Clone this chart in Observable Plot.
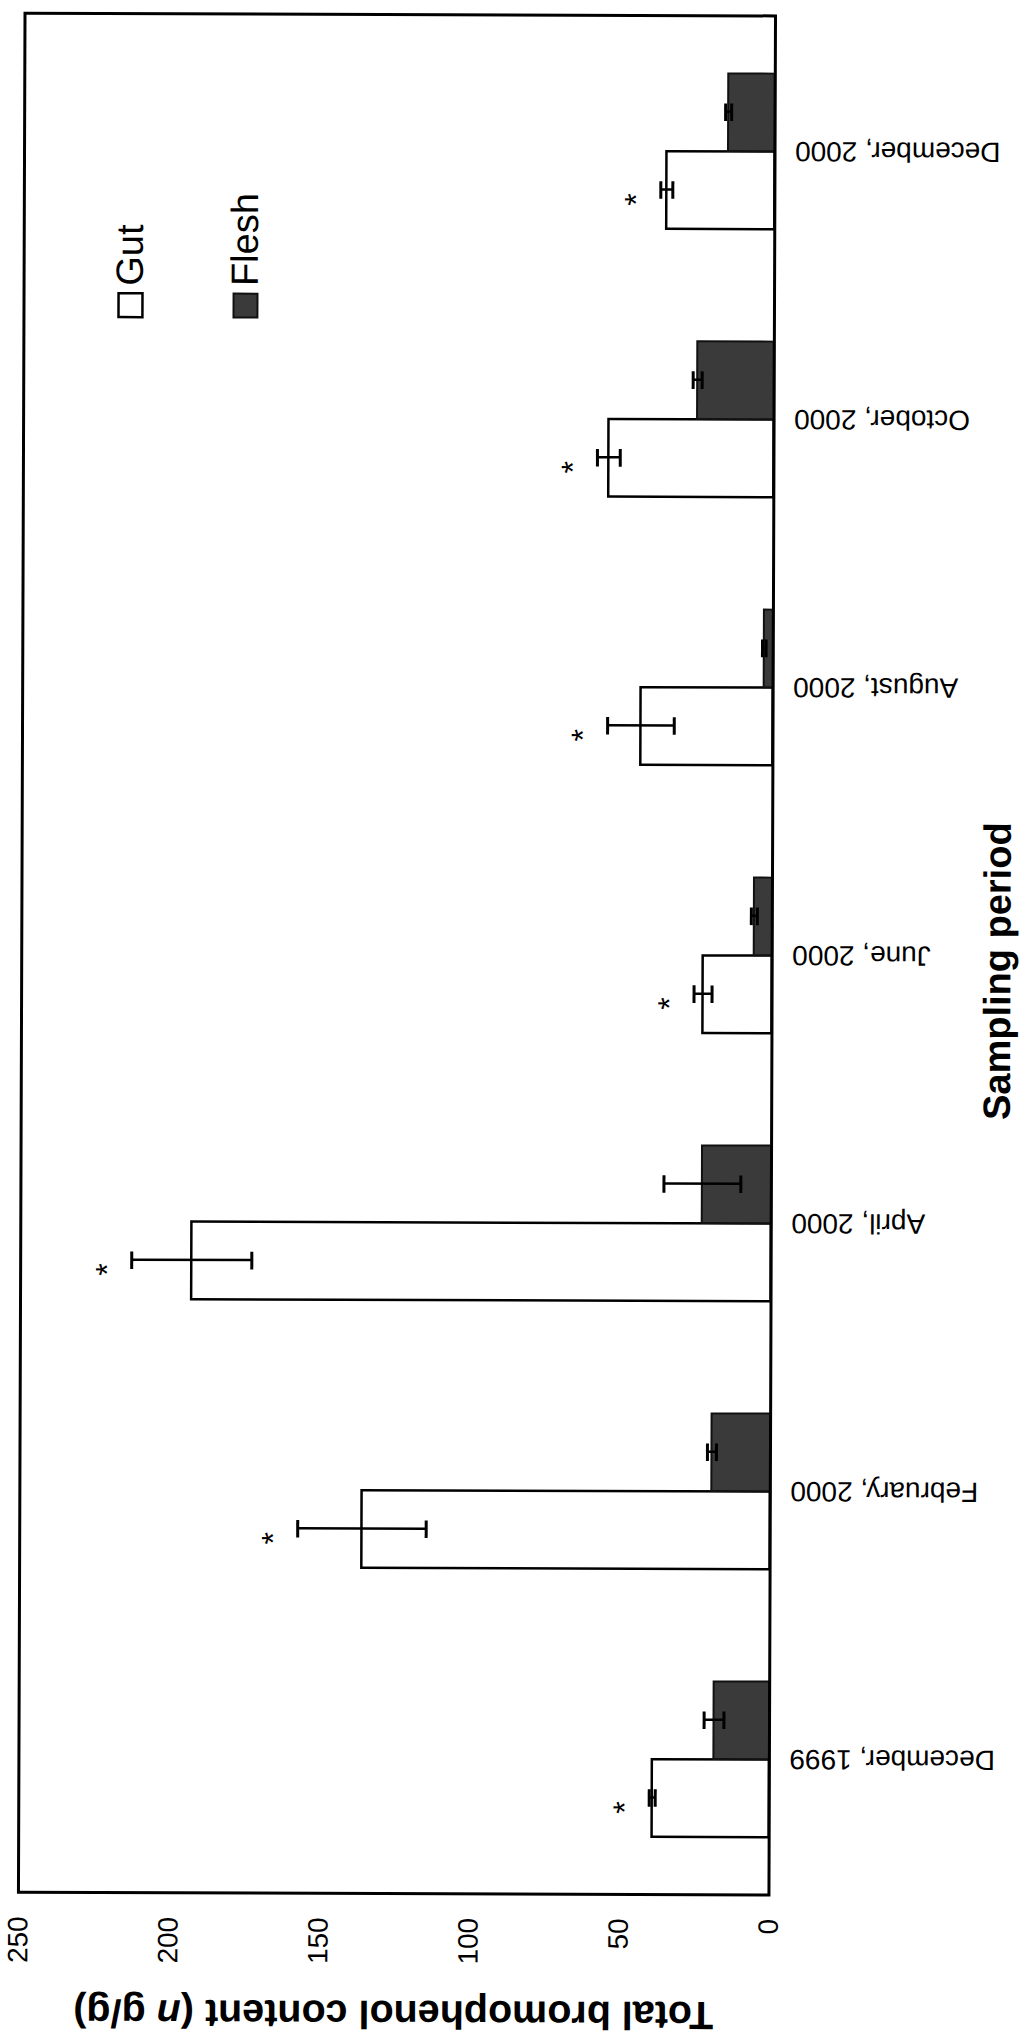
<!DOCTYPE html>
<html><head><meta charset="utf-8">
<script src="https://cdn.jsdelivr.net/npm/d3@7"></script>
<script src="https://cdn.jsdelivr.net/npm/@observablehq/plot@0.6"></script>
<style>
html,body{margin:0;padding:0;background:#fff;overflow:hidden;width:1022px;height:2037px;}
#wrap{position:absolute;left:-507.5px;top:507.5px;width:2037px;height:1022px;transform-origin:50% 50%;transform:rotate(-89.8deg);}
</style></head><body><div id="wrap"></div>
<script>
// Data (original chart: vertical bars, rendered rotated as in the scanned figure)
const periods = ["December, 1999","February, 2000","April, 2000","June, 2000","August, 2000","October, 2000","December, 2000"];
const gutMean   = [39, 136, 193, 23, 44, 55, 36];
const gutErr    = [1, 21.4, 20, 3, 11.1, 3.8, 2];
const fleshMean = [18.5, 19.5, 23, 6, 3, 25.5, 15.5];
const fleshErr  = [3.3, 1.5, 12.8, 1, 0.6, 1.5, 1];
const significant = [true, true, true, true, true, true, true];
const yTicks = [0, 50, 100, 150, 200, 250];
const seriesNames = ["Gut", "Flesh"];
const titleY = "Total bromophenol content (n g/g)";
const titleX = "Sampling period";

const gut = periods.map((p, i) => ({period: p, value: gutMean[i], err: gutErr[i], sig: significant[i]}));
const flesh = periods.map((p, i) => ({period: p, value: fleshMean[i], err: fleshErr[i]}));

const W = 2037, H = 1022;
const mL = 143, mR = 15, mT = 20.5, mB = 251;
const bw = (W - mL - mR) / periods.length;
const barW = 78;
const capHalf = 9;
const gutOff = -barW / 2, fleshOff = barW / 2;
const font = "Liberation Sans, Arial, Helvetica, sans-serif";

const chart = Plot.plot({
  width: W, height: H,
  marginLeft: mL, marginRight: mR, marginTop: mT, marginBottom: mB,
  style: {fontFamily: font, fontSize: "28px", color: "#000", background: "#fff"},
  x: {domain: periods, padding: 0, label: null},
  y: {domain: [0, 250], label: null},
  marks: [
    Plot.barY(gut, {x: "period", y: "value", fill: "#fff", stroke: "#000", strokeWidth: 2.5,
      insetLeft: bw / 2 - barW, insetRight: bw / 2}),
    Plot.barY(flesh, {x: "period", y: "value", fill: "#3a3a3a", stroke: "#111", strokeWidth: 2,
      insetLeft: bw / 2, insetRight: bw / 2 - barW}),
    // error bars
    Plot.ruleX(gut, {x: "period", y1: d => d.value - d.err, y2: d => d.value + d.err, dx: gutOff, stroke: "#000", strokeWidth: 2.5}),
    Plot.tickY(gut, {x: "period", y: d => d.value + d.err, insetLeft: bw / 2 + gutOff - capHalf, insetRight: bw / 2 - gutOff - capHalf, strokeWidth: 3}),
    Plot.tickY(gut, {x: "period", y: d => d.value - d.err, insetLeft: bw / 2 + gutOff - capHalf, insetRight: bw / 2 - gutOff - capHalf, strokeWidth: 3}),
    Plot.ruleX(flesh, {x: "period", y1: d => d.value - d.err, y2: d => d.value + d.err, dx: fleshOff, stroke: "#000", strokeWidth: 2.5}),
    Plot.tickY(flesh, {x: "period", y: d => d.value + d.err, insetLeft: bw / 2 + fleshOff - capHalf, insetRight: bw / 2 - fleshOff - capHalf, strokeWidth: 3}),
    Plot.tickY(flesh, {x: "period", y: d => d.value - d.err, insetLeft: bw / 2 + fleshOff - capHalf, insetRight: bw / 2 - fleshOff - capHalf, strokeWidth: 3}),
    // significance asterisks
    Plot.text(gut.filter(d => d.sig), {x: "period", y: d => d.value + d.err, text: () => "*", dx: gutOff - 10, dy: -24, fontSize: 32}),
    // axes
    Plot.axisY({ticks: yTicks, tickSize: 0, tickPadding: 24, fontSize: 28, label: null}),
    Plot.axisX({tickRotate: -90, tickSize: 0, tickPadding: 20, fontSize: 28, label: null}),
    Plot.frame({stroke: "#000", strokeWidth: 3}),
    // axis titles
    Plot.text([titleY], {text: d => d, frameAnchor: "left", dx: -120, rotate: -90, textAnchor: "middle", lineAnchor: "middle", fontSize: 39.5, fontWeight: "bold"}),
    Plot.text([titleX], {text: d => d, frameAnchor: "bottom", dx: -15, dy: 226, textAnchor: "middle", fontSize: 38, fontWeight: "bold", lineAnchor: "middle"}),
    // legend
    Plot.dot([seriesNames[0]], {frameAnchor: "top-right", dx: -291.5, dy: 106.5, symbol: "square", r: 13.5, fill: "#fff", stroke: "#000", strokeWidth: 2.5}),
    Plot.dot([seriesNames[1]], {frameAnchor: "top-right", dx: -291.5, dy: 221.5, symbol: "square", r: 13.5, fill: "#3a3a3a", stroke: "#111", strokeWidth: 2}),
    Plot.text([seriesNames[0]], {text: d => d, frameAnchor: "top-right", dx: -272, dy: 106.5, textAnchor: "start", lineAnchor: "middle", fontSize: 38}),
    Plot.text([seriesNames[1]], {text: d => d, frameAnchor: "top-right", dx: -272, dy: 221.5, textAnchor: "start", lineAnchor: "middle", fontSize: 38})
  ]
});

// italic "n" in the unit of the value-axis title
chart.querySelectorAll("text").forEach(t => {
  if (t.textContent === titleY) {
    const parts = ["Total bromophenol content (", "n", " g/g)"];
    while (t.firstChild) t.removeChild(t.firstChild);
    parts.forEach((s, i) => {
      const ts = document.createElementNS("http://www.w3.org/2000/svg", "tspan");
      ts.textContent = s;
      if (i === 1) ts.setAttribute("font-style", "italic");
      t.appendChild(ts);
    });
  }
});

document.getElementById("wrap").appendChild(chart);
</script>
</body></html>
